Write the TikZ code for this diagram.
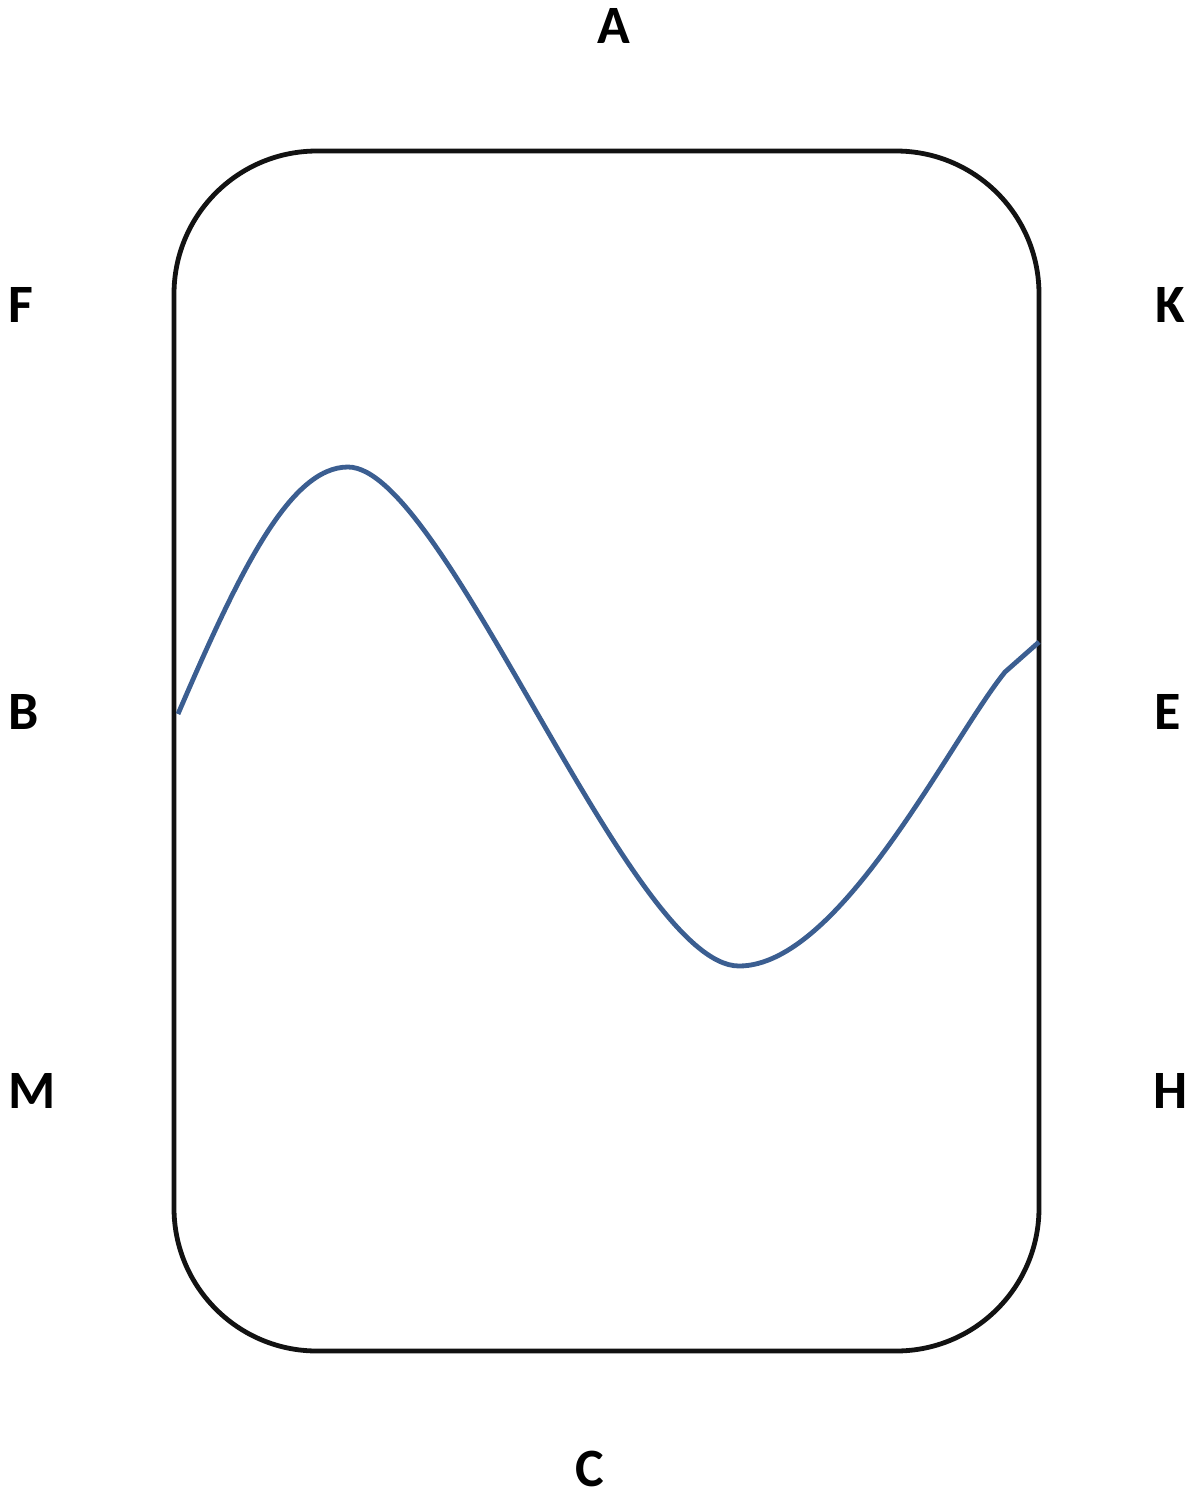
\documentclass[tikz,border=0pt]{standalone}
\usepackage{fontspec}
\setmainfont{Carlito}
\begin{document}
\begin{tikzpicture}[x=0.5pt,y=-0.5pt,
  lbl/.style={font=\fontsize{27pt}{30pt}\selectfont\bfseries, inner sep=0pt},
  frame/.style={draw=black!93, line width=2.4pt, rounded corners=71.5pt},
  wave/.style={draw=wavecol, line width=2.4pt}]
\definecolor{wavecol}{RGB}{59,94,145}
\useasboundingbox (0,0) rectangle (1197,1494);
\draw[frame] (174,151) rectangle (1039,1351);
\draw[wave] (178,714) .. controls (240,570) and (290,467) .. (348,467)
  .. controls (445,467) and (630,966) .. (739,966)
  .. controls (840,966) and (950,740) .. (1005,672) -- (1039,642);
\node[lbl] (A) at (614,26) {A};
\node[lbl] (F) at (21,305) {F};
\node[lbl] (K) at (1170,305) {K};
\node[lbl] (B) at (24,712) {B};
\node[lbl] (E) at (1168,712) {E};
\node[lbl] (M) at (32,1091) {M};
\node[lbl] (H) at (1171,1091) {H};
\node[lbl] (C) at (590,1469) {C};
\end{tikzpicture}
\end{document}
